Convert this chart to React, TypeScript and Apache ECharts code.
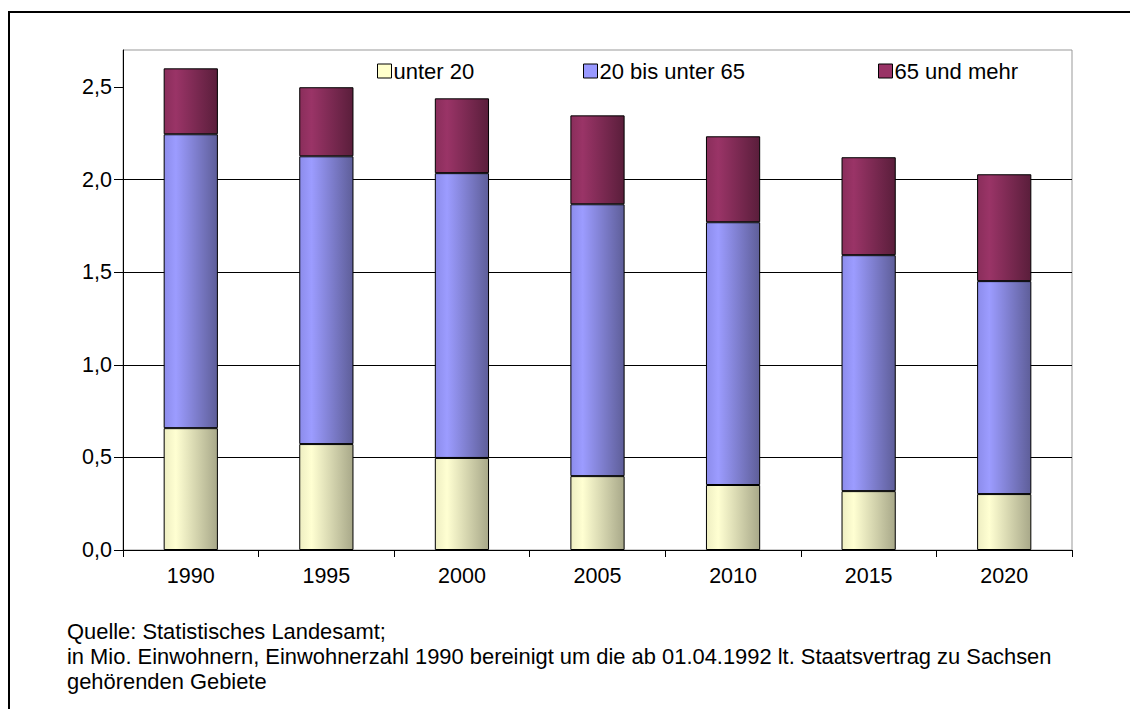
import React, { useEffect, useRef } from "react";
import * as echarts from "echarts";

const years = ["1990", "1995", "2000", "2005", "2010", "2015", "2020"];
const under20 = [0.658, 0.572, 0.497, 0.399, 0.351, 0.318, 0.302];
const age20to65 = [1.587, 1.554, 1.538, 1.468, 1.419, 1.274, 1.150];
const over65 = [0.356, 0.373, 0.404, 0.480, 0.464, 0.529, 0.577];
const yTicks = [0, 0.5, 1, 1.5, 2, 2.5];
const seriesNames = ["unter 20", "20 bis unter 65", "65 und mehr"];
const footnotes = [
  "Quelle: Statistisches Landesamt;",
  "in Mio. Einwohnern, Einwohnerzahl 1990 bereinigt um die ab 01.04.1992 lt. Staatsvertrag zu Sachsen",
  "gehörenden Gebiete",
];

const FONT = 'Arial, "Liberation Sans", sans-serif';

function grad(c0: string, c1: string, c2: string) {
  return new echarts.graphic.LinearGradient(0, 0, 1, 0, [
    { offset: 0, color: c0 },
    { offset: 0.22, color: c1 },
    { offset: 1, color: c2 },
  ]);
}

export default function App() {
  const ref = useRef<HTMLDivElement>(null);
  useEffect(() => {
    if (!ref.current) return;
    const chart = echarts.init(ref.current, undefined, { renderer: "svg" });
    const flat = ["#FFFFCC", "#9999FF", "#993366"];
    const fills = [
      grad("#EEEEC2", "#FFFFD2", "#A8A889"),
      grad("#8C8CEB", "#9C9CFF", "#5E5E99"),
      grad("#8A2E5B", "#9A3467", "#5A1E3B"),
    ];
    const data = [under20, age20to65, over65];
    const legendX = [377, 583, 878];
    chart.setOption({
      animation: false,
      grid: {
        left: 123,
        top: 50,
        right: 58,
        bottom: 159,
        show: true,
        borderColor: "#999999",
        borderWidth: 1,
        backgroundColor: "transparent",
      },
      legend: seriesNames.map((n, i) => ({
        left: legendX[i],
        top: 60,
        padding: 0,
        itemWidth: 14,
        itemHeight: 14,
        icon: "rect",
        textStyle: { fontSize: 22, fontFamily: FONT, color: "#000", padding: [0, 0, 0, -3] },
        data: [{ name: n, itemStyle: { color: flat[i], borderColor: "#000", borderWidth: 1 } }],
      })),
      xAxis: {
        type: "category",
        data: years,
        axisLine: { lineStyle: { color: "#000", width: 1 } },
        axisTick: { show: true, length: 7, lineStyle: { color: "#000" } },
        axisLabel: { fontSize: 21.5, fontFamily: FONT, color: "#000", margin: 15 },
      },
      yAxis: {
        type: "value",
        min: 0,
        max: 2.7,
        interval: 0.5,
        axisLine: { show: true, lineStyle: { color: "#000", width: 1 } },
        axisTick: { show: true, length: 9, customValues: yTicks, lineStyle: { color: "#000" } },
        axisLabel: {
          fontSize: 21.5,
          fontFamily: FONT,
          color: "#000",
          margin: 11,
          customValues: yTicks,
          formatter: (v: number) => v.toFixed(1).replace(".", ","),
        },
        splitLine: { show: true, showMaxLine: false, lineStyle: { color: "#000", width: 1 } },
      },
      series: seriesNames.map((n, i) => ({
        name: n,
        type: "bar",
        stack: "total",
        barWidth: "40%",
        data: data[i],
        itemStyle: { color: fills[i], borderColor: "#000", borderWidth: 1 },
        emphasis: { disabled: true },
      })),
      graphic: [
        {
          type: "rect",
          shape: { x: 9, y: 12, width: 1300, height: 900 },
          style: { fill: "none", stroke: "#000", lineWidth: 2 },
          silent: true,
        },
        ...footnotes.map((t, i) => ({
          type: "text",
          x: 67,
          y: 631 + i * 25,
          style: {
            text: t,
            fontSize: 21.9,
            fontFamily: FONT,
            fill: "#000",
            verticalAlign: "middle",
          },
        })),
      ],
    });
    return () => chart.dispose();
  }, []);
  return (
    <div
      ref={ref}
      style={{ position: "fixed", left: 0, top: 0, width: 1130, height: 709, background: "#fff" }}
    />
  );
}
